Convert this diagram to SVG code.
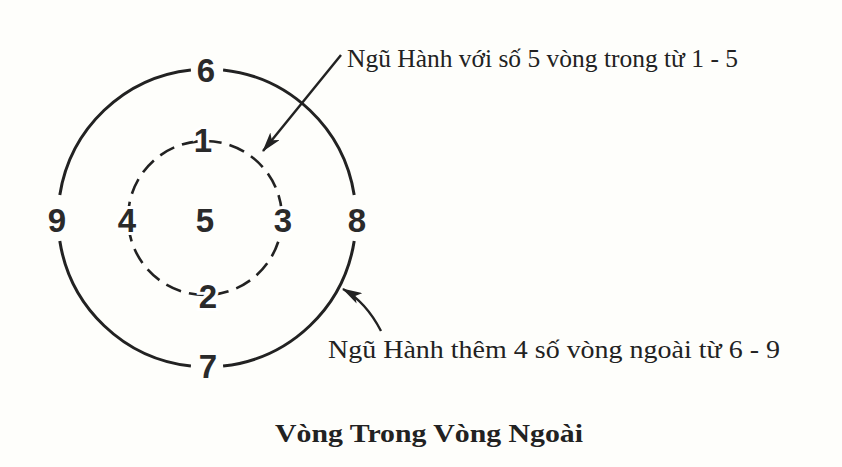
<svg xmlns="http://www.w3.org/2000/svg" width="842" height="467" viewBox="0 0 842 467">
  <style>
    .num { font-family: "Liberation Sans", Arial, sans-serif; font-weight: bold; font-size: 33px; fill: #2a2a2a; text-anchor: middle; }
    .halo { paint-order: stroke; stroke: #ffffff; stroke-width: 6px; }
    .lbl { font-family: "Liberation Serif", "Times New Roman", serif; font-size: 26px; fill: #222; }
    .outer { fill: none; stroke: #222; stroke-width: 3; }
    .inner { fill: none; stroke: #222; stroke-width: 2.6; stroke-dasharray: 16 8.2; }
    .arrow { fill: none; stroke: #222; stroke-width: 2.4; }
  </style>
  <defs>
    <marker id="ah" viewBox="0 0 20 12" refX="19" refY="6" markerWidth="20" markerHeight="12" markerUnits="userSpaceOnUse" orient="auto">
      <path d="M0,0 L20,6 L0,12 L5,6 Z" fill="#222"/>
    </marker>
  </defs>
  <rect width="842" height="467" fill="#fefefb"/>

  <g id="outer-ring">
    <path class="outer" d="M223.1,69.9 A149,149 0 0 1 354.2,195.0"/>
    <path class="outer" d="M354.2,241.0 A149,149 0 0 1 223.1,366.1"/>
    <path class="outer" d="M190.9,366.1 A149,149 0 0 1 59.8,241.0"/>
    <path class="outer" d="M59.8,195.0 A149,149 0 0 1 190.9,69.9"/>
  </g>
  <g id="inner-ring">
    <circle class="inner" cx="205" cy="218" r="77"/>
  </g>

  <g id="connectors">
    <path class="arrow" d="M341,55 L263,151" marker-end="url(#ah)"/>
    <path class="arrow" d="M381,331 Q366,302 343,289" marker-end="url(#ah)"/>
  </g>

  <g id="n6"><text class="num" x="206" y="82">6</text></g>
  <g id="n9"><text class="num" x="57" y="232">9</text></g>
  <g id="n8"><text class="num" x="357" y="232">8</text></g>
  <g id="n7"><text class="num" x="208" y="378">7</text></g>
  <g id="n1"><text class="num halo" x="203" y="152">1</text></g>
  <g id="n4"><text class="num halo" x="127" y="232">4</text></g>
  <g id="n5"><text class="num" x="205" y="232">5</text></g>
  <g id="n3"><text class="num halo" x="283" y="232">3</text></g>
  <g id="n2"><text class="num halo" x="208" y="308">2</text></g>

  <g id="label-inner"><text class="lbl" x="347" y="67" textLength="391" lengthAdjust="spacingAndGlyphs">Ngũ Hành với số 5 vòng trong từ 1 - 5</text></g>
  <g id="label-outer"><text class="lbl" x="328" y="358" textLength="452" lengthAdjust="spacingAndGlyphs">Ngũ Hành thêm 4 số vòng ngoài từ 6 - 9</text></g>
  <g id="title"><text class="lbl" x="275" y="442" font-weight="bold" textLength="308" lengthAdjust="spacingAndGlyphs">Vòng Trong Vòng Ngoài</text></g>
</svg>
